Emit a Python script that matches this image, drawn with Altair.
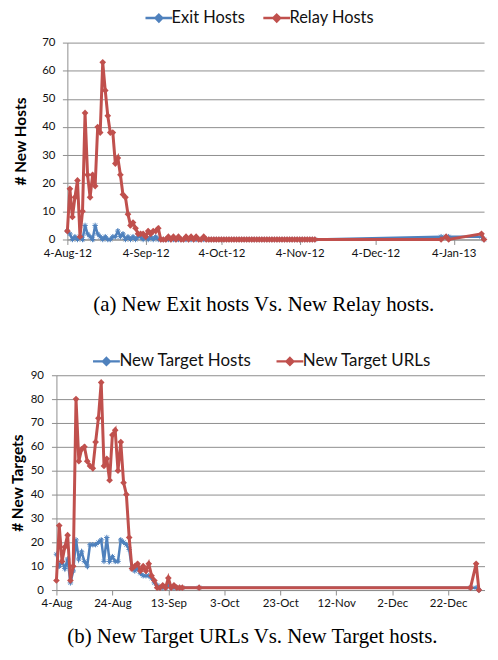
import altair as alt
import pandas as pd

BLUE = "#4F81BD"
RED = "#C0504D"
GRID = "#8E8E8E"
FONT = "Lato"
SERIF = "Liberation Serif"

# ---------------- Panel (a): x = days since 4-Aug-2012 ----------------
a_names = ["Exit Hosts", "Relay Hosts"]
a_days = [
    0, 1, 2, 3, 4, 5, 6, 7, 8, 9, 10, 11, 12, 13, 14, 15, 16, 17, 18, 19,
    20, 21, 22, 23, 24, 25, 26, 27, 28, 29, 30, 31, 32, 33, 34, 35, 36, 37, 38, 39,
    40, 41, 42, 43, 44, 45, 46, 47, 48, 49, 50, 51, 52, 53, 54, 55, 56, 57, 58, 59,
    60, 61, 62, 63, 64, 65, 66, 67, 68, 69, 70, 71, 72, 73, 74, 75, 76, 77, 78, 79,
    80, 81, 82, 83, 84, 85, 86, 87, 88, 89, 90, 91, 92, 93, 94, 95, 96, 97, 98,
    148, 150, 151, 164, 165,
]
exit_hosts = [
    3, 2, 0, 1, 0, 1, 0, 5, 2, 1, 0, 5, 2, 1, 0, 1, 0, 0, 1, 1,
    3, 1, 2, 0, 1, 0, 1, 0, 1, 1, 0, 1, 0, 1, 0, 1, 0, 0, 0, 0,
    0, 0, 0, 0, 0, 0, 0, 0, 0, 0, 0, 0, 0, 0, 0, 0, 0, 0, 0, 0,
    0, 0, 0, 0, 0, 0, 0, 0, 0, 0, 0, 0, 0, 0, 0, 0, 0, 0, 0, 0,
    0, 0, 0, 0, 0, 0, 0, 0, 0, 0, 0, 0, 0, 0, 0, 0, 0, 0, 0,
    1, 1, 1, 1, 0,
]
relay_hosts = [
    3, 18, 8, 15, 21, 1, 10, 45, 23, 15, 23, 19, 40, 38, 63, 53, 44, 38, 38, 27,
    29, 23, 16, 15, 9, 5, 6, 4, 2, 2, 2, 1, 3, 2, 3, 3, 4, 0, 0, 0,
    1, 0, 1, 0, 1, 0, 0, 1, 0, 1, 0, 1, 0, 0, 1, 0, 0, 0, 0, 0,
    0, 0, 0, 0, 0, 0, 0, 0, 0, 0, 0, 0, 0, 0, 0, 0, 0, 0, 0, 0,
    0, 0, 0, 0, 0, 0, 0, 0, 0, 0, 0, 0, 0, 0, 0, 0, 0, 0, 0,
    0, 1, 0, 2, 0,
]
a_tick_days = [0, 31, 61, 92, 122, 153]
a_tick_labels = ["4-Aug-12", "4-Sep-12", "4-Oct-12", "4-Nov-12", "4-Dec-12", "4-Jan-13"]
a_caption = "(a) New Exit hosts Vs. New Relay hosts."

# ---------------- Panel (b): x = days since 4-Aug-2012 ----------------
b_names = ["New Target Hosts", "New Target URLs"]
b_days = [
    0, 1, 2, 3, 4, 5, 6, 7, 8, 9, 10, 11, 12, 13, 14, 15, 16, 17, 18, 19,
    20, 21, 22, 23, 24, 25, 26, 27, 28, 29, 30, 31, 32, 33, 34, 35, 36, 37, 38, 39,
    40, 41, 42, 43, 44, 45, 51, 148, 150, 151,
]
target_hosts = [
    15, 10, 12, 9, 13, 3, 8, 21, 13, 16, 12, 10, 19, 19, 19, 20, 21, 12, 22, 12,
    14, 12, 12, 21, 20, 19, 17, 9, 8, 9, 7, 6, 6, 6, 5, 3, 2, 1, 1, 1,
    2, 1, 1, 1, 1, 1, 1, 1, 1, 0,
]
target_urls = [
    4, 27, 12, 18, 23, 4, 10, 80, 54, 59, 60, 54, 52, 51, 62, 72, 87, 52, 55, 46,
    65, 67, 50, 62, 45, 40, 22, 9, 10, 11, 8, 10, 8, 11, 6, 4, 1, 1, 2, 1,
    5, 1, 2, 1, 1, 1, 1, 1, 11, 0,
]
b_tick_days = [0, 20, 40, 60, 80, 100, 120, 140]
b_tick_labels = ["4-Aug", "24-Aug", "13-Sep", "3-Oct", "23-Oct", "12-Nov", "2-Dec", "22-Dec"]
b_caption = "(b) New Target URLs Vs. New Target hosts."

LEGEND_PATH = "M-2,0H2M0,-0.5L0.5,0L0,0.5L-0.5,0Z"
STAR_PATH = "M-1,0H1M0,-1V1M-0.7,-0.7L0.7,0.7M-0.7,0.7L0.7,-0.7"


def label_expr(days, labels):
    expr = "''"
    for d, l in reversed(list(zip(days, labels))):
        expr = f"datum.value == {d} ? '{l}' : ({expr})"
    return expr


def panel(days, s1, s2, names, x_max, x_shift, width, height, tick_days, tick_labels,
          y_max, y_title, lab_pad, title_pad, leg_x, leg_y, leg_font, leg_pad,
          caption, cap_dx, cap_offset):
    df = pd.DataFrame({
        "day": days * 2,
        "value": s1 + s2,
        "series": [names[0]] * len(days) + [names[1]] * len(days),
    })
    x = alt.X("day:Q", title=None,
              scale=alt.Scale(domain=[0, x_max], range=[x_shift, width], nice=False, zero=False),
              axis=alt.Axis(values=tick_days, labelExpr=label_expr(tick_days, tick_labels),
                            grid=False, domainColor=GRID, tickColor=GRID, tickSize=5,
                            labelFont=FONT, labelFontSize=11.5, labelColor="#111",
                            labelPadding=3, labelFlush=False))
    y = alt.Y("value:Q", title=y_title,
              scale=alt.Scale(domain=[0, y_max], nice=False, zero=True),
              axis=alt.Axis(values=list(range(0, y_max + 1, 10)), grid=True, gridColor=GRID,
                            gridWidth=1, domainColor=GRID, tickColor=GRID, tickSize=5,
                            offset=-x_shift, labelFont=FONT, labelFontSize=11.5,
                            labelColor="#111", labelPadding=lab_pad,
                            titleFont=FONT, titleFontSize=15.5, titleFontWeight="bold",
                            titleColor="#000", titlePadding=title_pad))
    color = alt.Color("series:N",
                      scale=alt.Scale(domain=names, range=[BLUE, RED]),
                      legend=alt.Legend(orient="none", legendX=leg_x, legendY=leg_y,
                                        direction="horizontal", title=None,
                                        gridAlign="each",
                                        symbolType=LEGEND_PATH, symbolSize=182,
                                        symbolStrokeWidth=2.5, labelFont=FONT,
                                        labelFontSize=leg_font, labelColor="#111",
                                        labelOffset=4.5, columnPadding=leg_pad))
    base = alt.Chart(df)
    blue_line = base.transform_filter(alt.datum.series == names[0]).mark_line(
        strokeWidth=2.5).encode(x=x, y=y, color=color, order="day:Q")
    blue_pts = base.transform_filter(alt.datum.series == names[0]).mark_point(
        shape=STAR_PATH, size=30, filled=False, strokeWidth=1, opacity=1).encode(
        x=x, y=y, color=color)
    red_line = base.transform_filter(alt.datum.series == names[1]).mark_line(
        strokeWidth=3).encode(x=x, y=y, color=color, order="day:Q")
    red_pts = base.transform_filter(alt.datum.series == names[1]).mark_point(
        shape="diamond", size=45, filled=True, opacity=1).encode(x=x, y=y, color=color)
    return alt.layer(blue_line, blue_pts, red_line, red_pts).properties(
        width=width, height=height,
        title=alt.TitleParams(caption, orient="bottom", font=SERIF, fontSize=21,
                              fontWeight="normal", color="#000", anchor="middle",
                              frame="group", dx=cap_dx, offset=cap_offset))


panel_a = panel(a_days, exit_hosts, relay_hosts, a_names, 165, 11, 430, 198,
                a_tick_days, a_tick_labels, 70, "# New Hosts", 7.5, 13, 94.8, -33,
                16.5, 12.5, a_caption, -6.5, 35)
panel_b = panel(b_days, target_hosts, target_urls, b_names, 153, 0, 430.5, 216,
                b_tick_days, b_tick_labels, 90, "# New Targets", 8, 5, 41.8, -22.5,
                17, 19.5, b_caption, -18.2, 17)

chart = alt.vconcat(panel_a, panel_b, spacing=37.5).resolve_scale(
    x="independent", y="independent", color="independent"
).properties(
    padding={"left": 1.7, "top": 0, "right": 0, "bottom": 0}
).configure_view(stroke=None)

chart.save("out.html", embed_options={"renderer": "svg", "actions": False})
